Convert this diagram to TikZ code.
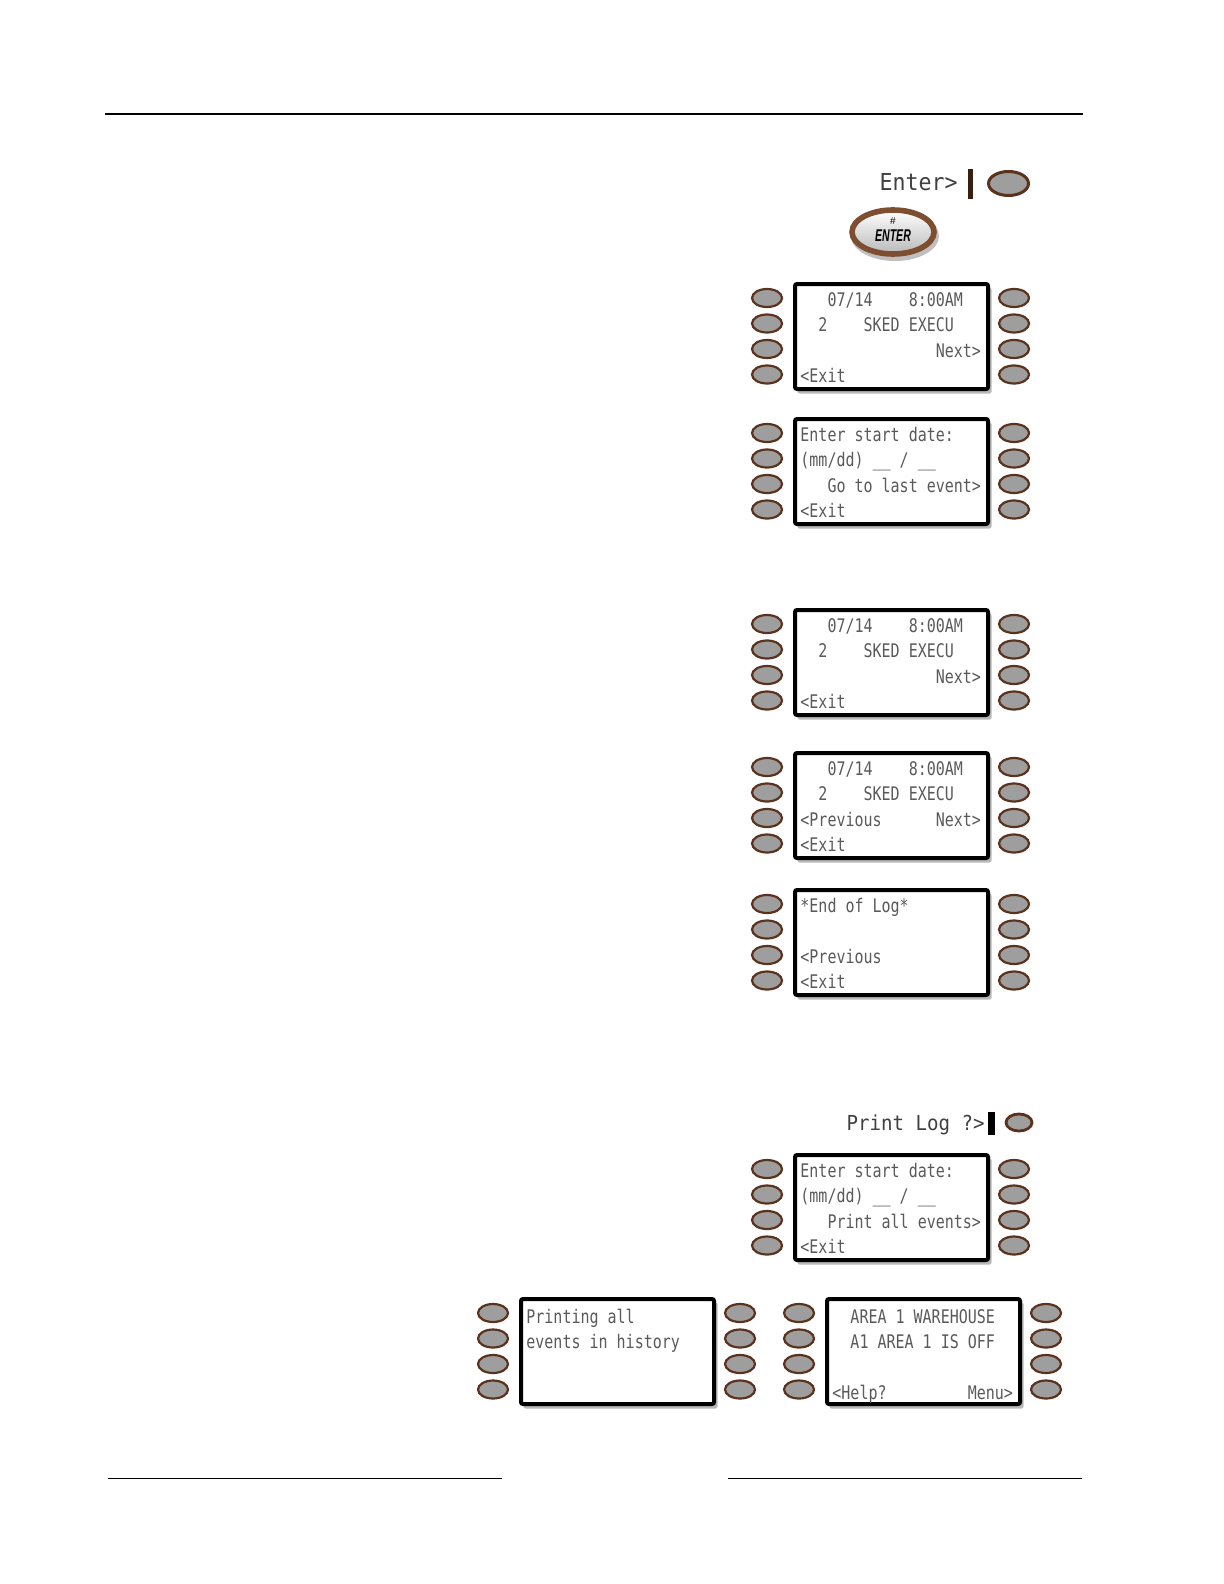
\documentclass[tikz,border=0pt]{standalone}
\usepackage{fontspec}
\setmonofont{DejaVu Sans Mono}
\setsansfont{Liberation Sans}
\usepackage{graphicx}
\usetikzlibrary{shapes.geometric, positioning, calc}
\definecolor{btnbrown}{RGB}{90,50,30}
\definecolor{btngray}{RGB}{158,158,158}
\definecolor{lcdgray}{RGB}{90,90,90}
\definecolor{entbrown}{RGB}{125,78,48}
\definecolor{curbrown}{RGB}{55,30,15}
\newcommand{\lcdfont}{\ttfamily\fontsize{7.5pt}{9pt}\selectfont}
\newcommand{\lcdstr}[1]{\scalebox{1}[1.25]{\lcdfont #1}}
\tikzset{
  keybtn/.style={ellipse, draw=btnbrown, fill=btngray, line width=1.1pt,
    minimum width=15pt, minimum height=9pt, inner sep=0pt},
  lcdbox/.style={rectangle, draw=black, fill=white, line width=2pt,
    minimum width=96.5pt, minimum height=52.5pt, rounded corners=1pt, inner sep=0pt},
  lcdshadow/.style={rectangle, fill=black!28, minimum width=97pt,
    minimum height=53pt, rounded corners=1pt, inner sep=0pt},
  lcdtext/.style={anchor=base west, inner sep=0pt, text=lcdgray},
  bigtext/.style={anchor=base east, inner sep=0pt, text=black!75},
  enterkey/.style={ellipse, draw=entbrown, line width=2.8pt, top color=white,
    bottom color=gray!55, minimum width=41pt, minimum height=22pt, inner sep=0pt}
}
% one keypad screen: name, top left corner, text shift, four lines
\newcommand{\lcdpanel}[8]{%
  \node[lcdshadow] (#1-sh) at (#2+101.5, #3+58.5) {};
  \node[lcdbox] (#1) at (#2+98.5, #3+54.5) {};
  \foreach \row in {0,...,3} {
    \node[keybtn] (#1-l\row) at (#2-26, #3+16+25.5*\row) {};
    \node[keybtn] (#1-r\row) at (#2+221, #3+16+25.5*\row) {};
  }
  \node[lcdtext] (#1-a) at (#2+7, #3+24+#4) {\lcdstr{#5}};
  \node[lcdtext] (#1-b) at (#2+7, #3+49.5+#4) {\lcdstr{#6}};
  \node[lcdtext] (#1-c) at (#2+7, #3+75+#4) {\lcdstr{#7}};
  \node[lcdtext] (#1-d) at (#2+7, #3+100.5+#4) {\lcdstr{#8}};
}

\begin{document}
\begin{tikzpicture}[x=0.5pt, y=-0.5pt]
  \useasboundingbox (0,0) rectangle (1224,1584);

  % Page rules
  \draw[line width=1pt] (105,114) -- (1083,114);
  \draw[line width=0.5pt] (108,1478) -- (502,1478);
  \draw[line width=0.5pt] (728,1478) -- (1082,1478);

  % Enter prompt and key
  \node[bigtext, font=\ttfamily\fontsize{10.8pt}{12pt}\selectfont] (enterlbl) at (958,190)
    {\scalebox{1}[1.08]{Enter>}};
  \fill[curbrown] (968,169) rectangle (973,199);
  \node[keybtn, line width=1.5pt, minimum width=20pt, minimum height=12pt] (enterbtn) at (1008.5,183.5) {};
  \node[ellipse, fill=black!25, minimum width=44pt, minimum height=25pt] (entshadow) at (895,236) {};
  \node[enterkey] (entkey) at (893,232) {};
  \node[font=\sffamily\fontsize{5pt}{5pt}\selectfont, inner sep=0pt] (enthash) at (893,221) {\#};
  \node[font=\sffamily\bfseries\itshape\fontsize{8.5pt}{9pt}\selectfont, inner sep=0pt] (entword) at (893,236)
    {\scalebox{0.62}[1]{ENTER}};

  % Screens
  \lcdpanel{scrA}{793}{282}{0}{~~~07/14~~~~8:00AM}{~~2~~~~SKED~EXECU}{~~~~~~~~~~~~~~~Next>}{<Exit}
  \lcdpanel{scrB}{793}{417}{0}{Enter~start~date:}{(mm/dd)~\_\_~/~\_\_}{~~~Go~to~last~event>}{<Exit}
  \lcdpanel{scrC}{793}{608}{0}{~~~07/14~~~~8:00AM}{~~2~~~~SKED~EXECU}{~~~~~~~~~~~~~~~Next>}{<Exit}
  \lcdpanel{scrD}{793}{751}{0}{~~~07/14~~~~8:00AM}{~~2~~~~SKED~EXECU}{<Previous~~~~~~Next>}{<Exit}
  \lcdpanel{scrE}{793}{888}{0}{*End~of~Log*}{}{<Previous}{<Exit}

  % Print log prompt
  \node[bigtext, font=\ttfamily\fontsize{9.55pt}{11pt}\selectfont] (printlbl) at (985,1130)
    {\scalebox{1}[1.08]{Print~Log~?>}};
  \fill[black] (988,1112) rectangle (995,1135);
  \node[keybtn, line width=1.4pt, minimum width=13pt, minimum height=8.5pt] (printbtn) at (1019,1122.5) {};

  \lcdpanel{scrF}{793}{1153}{0}{Enter~start~date:}{(mm/dd)~\_\_~/~\_\_}{~~~Print~all~events>}{<Exit}
  \lcdpanel{scrG}{519}{1297}{2}{Printing~all}{events~in~history}{}{}
  \lcdpanel{scrH}{825}{1297}{2}{~~AREA~1~WAREHOUSE}{~~A1~AREA~1~IS~OFF}{}{<Help?~~~~~~~~~Menu>}
\end{tikzpicture}
\end{document}
